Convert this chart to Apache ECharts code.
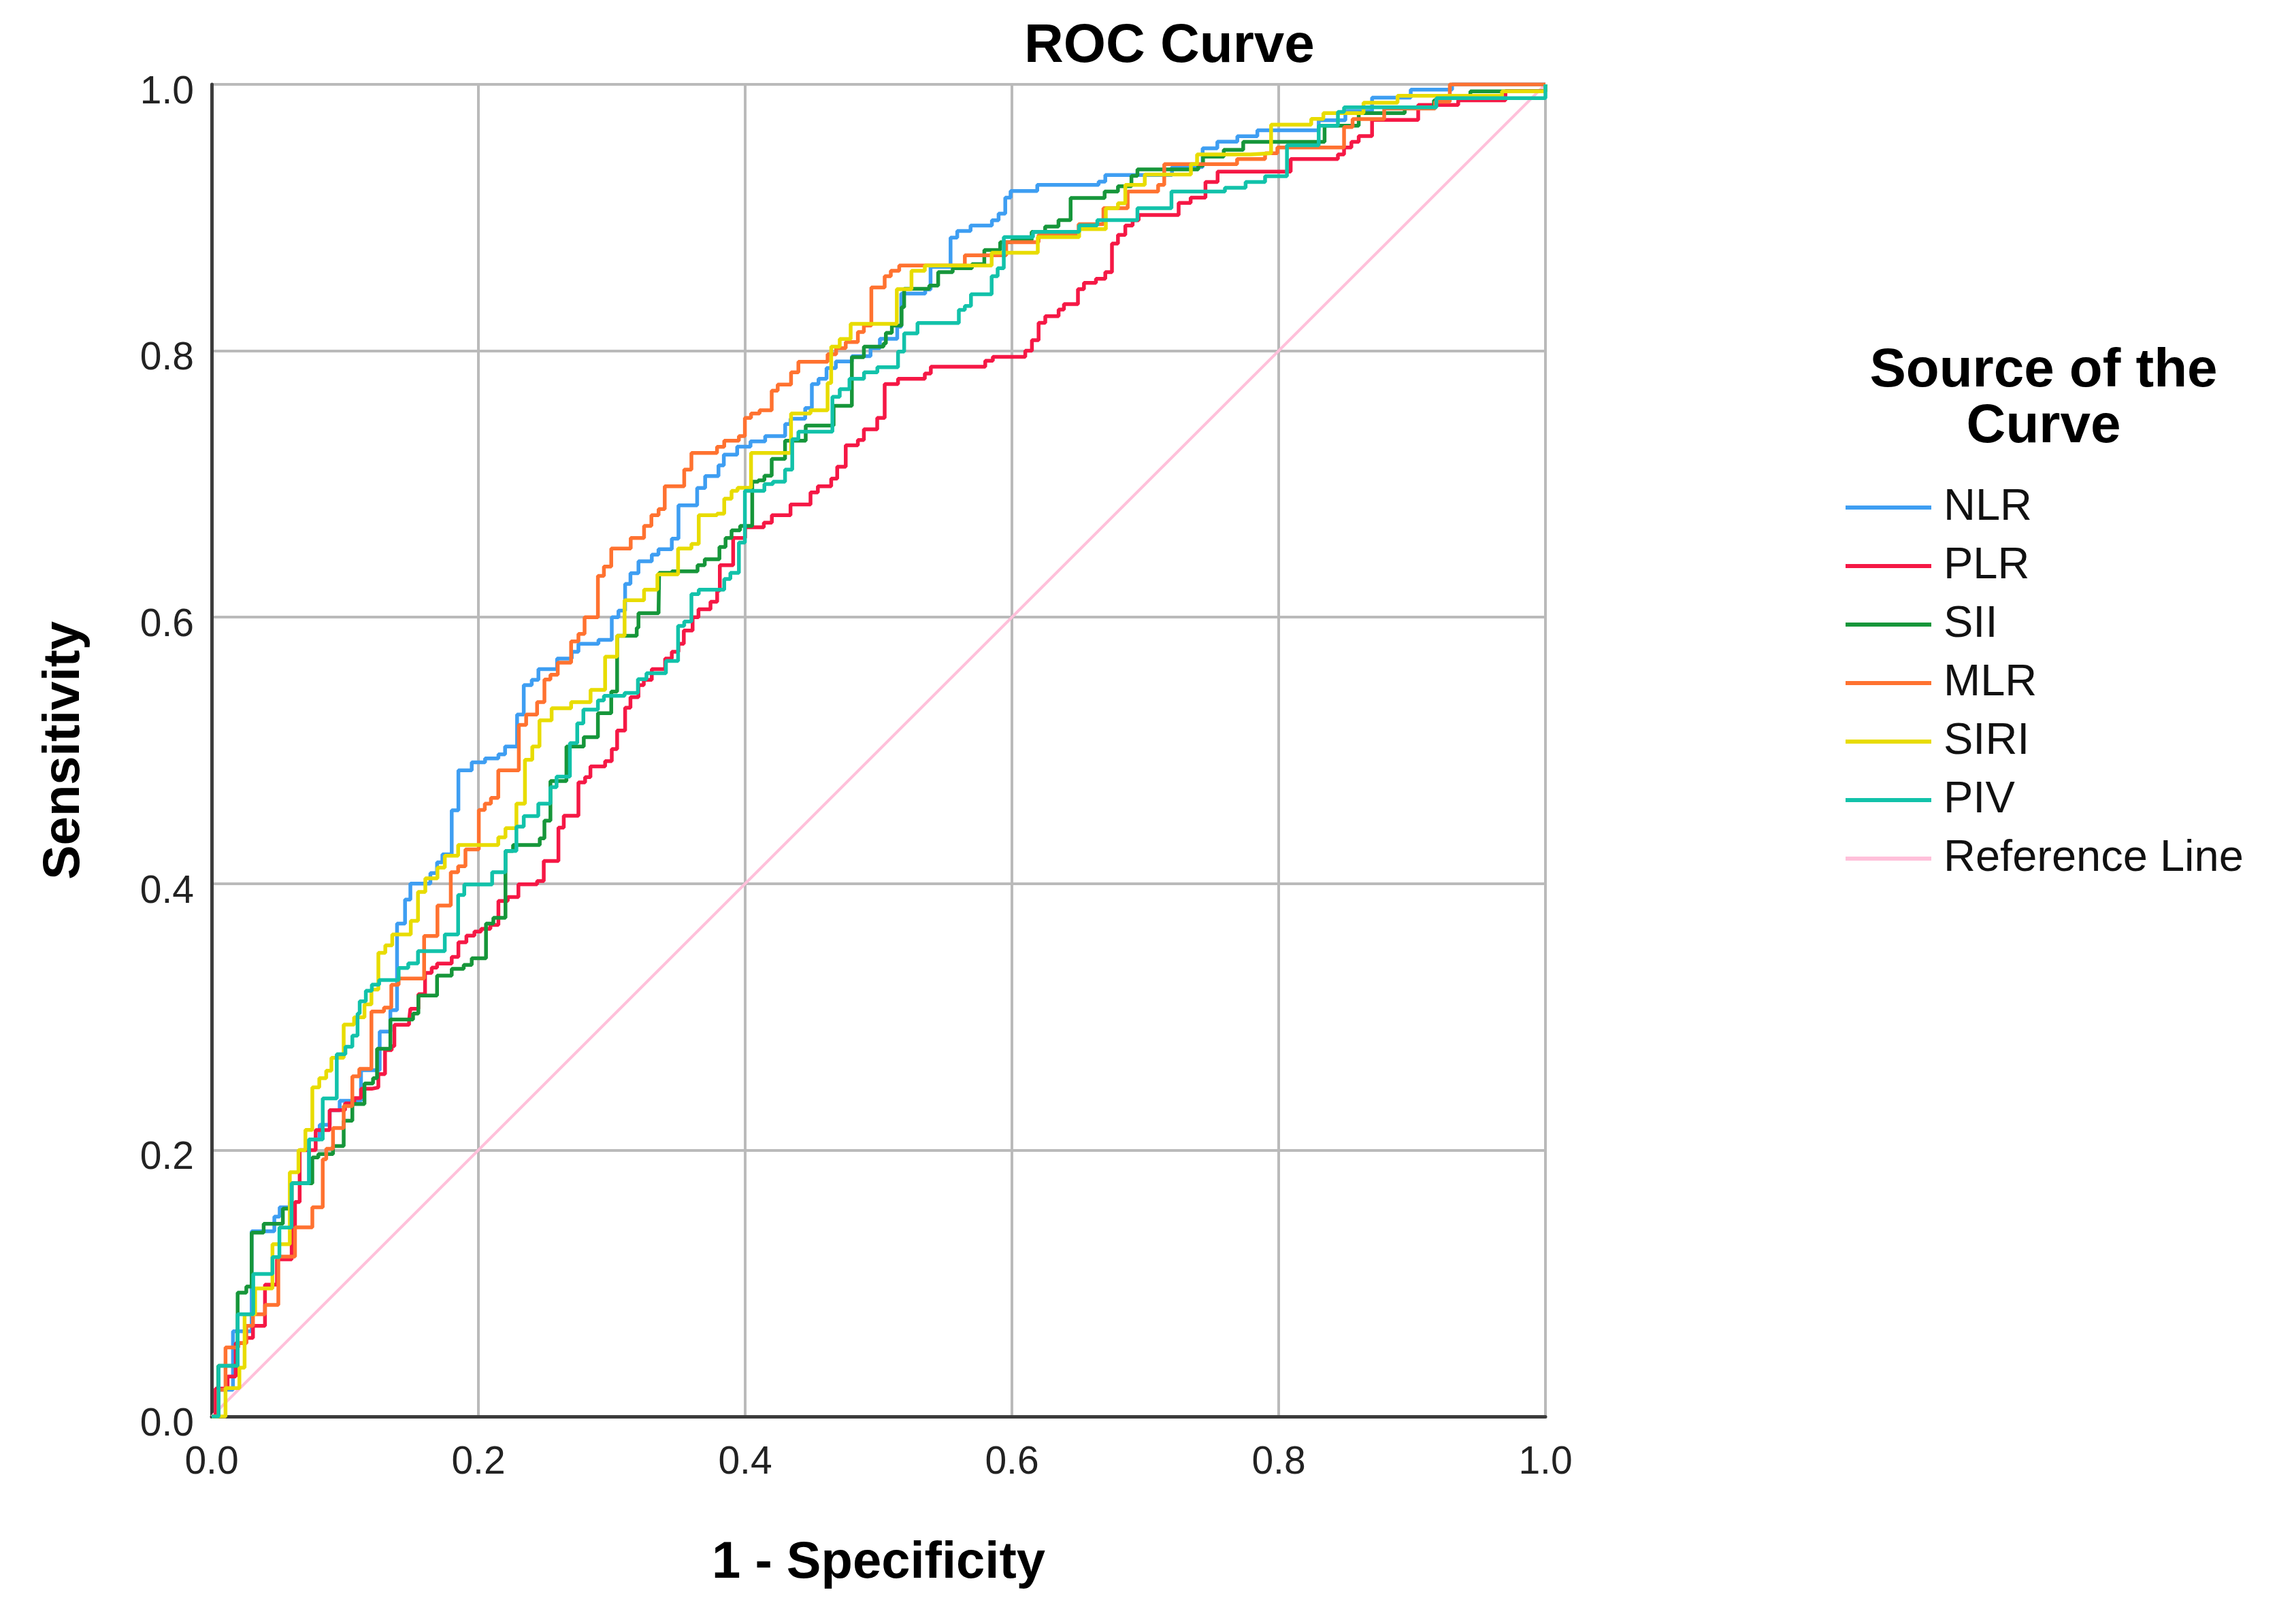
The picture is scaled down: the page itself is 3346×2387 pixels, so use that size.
<!DOCTYPE html>
<html>
<head>
<meta charset="utf-8">
<script src="https://cdn.jsdelivr.net/npm/echarts@6/dist/echarts.min.js"></script>
<style>
html,body{margin:0;padding:0;background:#fff;}
#chart{width:3346px;height:2387px;}
</style>
</head>
<body>
<div id="chart"></div>
<script>
const seriesNames = ['NLR','PLR','SII','MLR','SIRI','PIV','Reference Line'];
const seriesColors = ['#3e9ef2','#f51845','#16963a','#ff7230','#e8dc00','#12c2aa','#ffc0da'];

const NLR = [[0,0],[0.005,0.02],[0.016,0.064],[0.03,0.139],[0.047,0.15],[0.051,0.157],[0.06,0.175],[0.073,0.208],[0.081,0.219],[0.0885,0.23],[0.096,0.237],[0.112,0.26],[0.126,0.289],[0.134,0.305],[0.139,0.37],[0.145,0.388],[0.149,0.4],[0.164,0.408],[0.169,0.416],[0.173,0.422],[0.18,0.455],[0.185,0.485],[0.195,0.491],[0.205,0.494],[0.215,0.497],[0.22,0.503],[0.229,0.527],[0.234,0.549],[0.24,0.553],[0.245,0.561],[0.259,0.569],[0.27,0.574],[0.275,0.58],[0.29,0.583],[0.3,0.6],[0.305,0.605],[0.31,0.625],[0.314,0.633],[0.32,0.642],[0.33,0.647],[0.335,0.651],[0.345,0.659],[0.35,0.684],[0.364,0.697],[0.37,0.706],[0.38,0.714],[0.384,0.722],[0.394,0.728],[0.404,0.732],[0.415,0.736],[0.43,0.745],[0.434,0.749],[0.445,0.757],[0.45,0.775],[0.455,0.779],[0.461,0.787],[0.468,0.792],[0.48,0.796],[0.494,0.802],[0.501,0.809],[0.514,0.818],[0.517,0.843],[0.535,0.846],[0.539,0.863],[0.554,0.885],[0.559,0.89],[0.569,0.894],[0.585,0.898],[0.59,0.903],[0.595,0.915],[0.599,0.92],[0.619,0.9245],[0.665,0.927],[0.67,0.932],[0.72,0.938],[0.743,0.952],[0.754,0.957],[0.769,0.961],[0.784,0.9655],[0.83,0.973],[0.85,0.98],[0.87,0.99],[0.899,0.996],[0.93,1.0],[1,1]];

const PLR = [[0,0],[0.003,0.021],[0.012,0.03],[0.018,0.055],[0.026,0.059],[0.031,0.068],[0.04,0.099],[0.049,0.118],[0.06,0.143],[0.0625,0.161],[0.066,0.2],[0.078,0.215],[0.0885,0.23],[0.1,0.235],[0.107,0.239],[0.112,0.246],[0.12,0.247],[0.125,0.257],[0.13,0.275],[0.135,0.278],[0.137,0.294],[0.148,0.297],[0.149,0.306],[0.155,0.317],[0.16,0.333],[0.165,0.337],[0.169,0.34],[0.18,0.345],[0.185,0.356],[0.191,0.361],[0.197,0.364],[0.202,0.366],[0.209,0.369],[0.215,0.387],[0.222,0.39],[0.23,0.3995],[0.244,0.402],[0.249,0.417],[0.26,0.442],[0.264,0.451],[0.275,0.476],[0.28,0.48],[0.284,0.488],[0.295,0.492],[0.3,0.501],[0.304,0.515],[0.31,0.532],[0.314,0.54],[0.32,0.549],[0.324,0.553],[0.33,0.561],[0.34,0.569],[0.345,0.574],[0.35,0.58],[0.354,0.59],[0.3606,0.6],[0.365,0.606],[0.374,0.6116],[0.379,0.62],[0.381,0.639],[0.391,0.6595],[0.4,0.6675],[0.414,0.671],[0.42,0.6766],[0.434,0.6846],[0.449,0.6937],[0.4545,0.6983],[0.4645,0.704],[0.469,0.713],[0.4754,0.729],[0.4845,0.733],[0.489,0.741],[0.499,0.7496],[0.5046,0.775],[0.5146,0.779],[0.5347,0.783],[0.5392,0.788],[0.58,0.7925],[0.5857,0.7955],[0.61,0.8],[0.615,0.808],[0.62,0.821],[0.625,0.826],[0.635,0.831],[0.639,0.835],[0.6495,0.8463],[0.654,0.851],[0.663,0.854],[0.67,0.859],[0.675,0.8805],[0.6795,0.887],[0.685,0.894],[0.6905,0.898],[0.695,0.902],[0.725,0.911],[0.734,0.915],[0.7451,0.9267],[0.7542,0.9345],[0.809,0.944],[0.8444,0.9474],[0.849,0.9526],[0.8545,0.9569],[0.86,0.9612],[0.87,0.9733],[0.9046,0.9845],[0.9346,0.988],[0.97,0.995],[1,1]];

const SII = [[0,0],[0.005,0.038],[0.0195,0.093],[0.026,0.0975],[0.03,0.138],[0.039,0.1446],[0.0534,0.156],[0.0586,0.161],[0.06,0.175],[0.0755,0.1945],[0.08,0.197],[0.091,0.203],[0.099,0.222],[0.1055,0.2346],[0.1146,0.25],[0.121,0.254],[0.124,0.276],[0.134,0.298],[0.151,0.3025],[0.155,0.316],[0.169,0.331],[0.18,0.336],[0.189,0.339],[0.195,0.344],[0.2057,0.37],[0.2112,0.3744],[0.2203,0.4245],[0.226,0.429],[0.246,0.434],[0.2495,0.4473],[0.254,0.477],[0.266,0.503],[0.279,0.51],[0.2896,0.528],[0.2996,0.5442],[0.304,0.586],[0.3187,0.592],[0.32,0.603],[0.3351,0.606],[0.3355,0.6333],[0.345,0.6345],[0.3643,0.639],[0.3697,0.6435],[0.3807,0.6527],[0.3853,0.6595],[0.3898,0.6652],[0.3962,0.6686],[0.4053,0.7017],[0.4098,0.7028],[0.4144,0.7062],[0.4199,0.7188],[0.4299,0.7325],[0.4454,0.7439],[0.4663,0.7587],[0.48,0.7952],[0.489,0.8031],[0.5037,0.8054],[0.5055,0.8134],[0.51,0.819],[0.5173,0.8328],[0.5192,0.8465],[0.538,0.849],[0.5447,0.859],[0.5556,0.862],[0.57,0.865],[0.5793,0.8756],[0.5912,0.8815],[0.6,0.883],[0.6148,0.8893],[0.6249,0.8932],[0.6349,0.8981],[0.644,0.9147],[0.6695,0.9196],[0.6795,0.9235],[0.6896,0.9313],[0.6941,0.9362],[0.7397,0.939],[0.7433,0.9457],[0.7588,0.9509],[0.7734,0.9569],[0.8344,0.969],[0.86,0.9784],[0.8945,0.9828],[0.9164,0.988],[0.92,0.9914],[0.9437,0.9948],[0.995,0.9948],[1,1]];

const MLR = [[0,0],[0.005,0.02],[0.0104,0.0518],[0.02,0.055],[0.026,0.068],[0.031,0.0767],[0.04,0.0837],[0.05,0.12],[0.0625,0.142],[0.0755,0.157],[0.0833,0.193],[0.0859,0.201],[0.091,0.2166],[0.099,0.233],[0.1055,0.2554],[0.1107,0.261],[0.1198,0.304],[0.1292,0.307],[0.1347,0.324],[0.1402,0.3288],[0.1593,0.3607],[0.1693,0.3835],[0.1793,0.4086],[0.1848,0.413],[0.1903,0.4257],[0.2003,0.4553],[0.2048,0.46],[0.2094,0.4644],[0.2149,0.485],[0.2303,0.5191],[0.2358,0.527],[0.244,0.5362],[0.2495,0.5533],[0.254,0.5568],[0.2595,0.5659],[0.2695,0.5818],[0.275,0.5875],[0.2796,0.6],[0.2896,0.631],[0.2941,0.638],[0.2996,0.6515],[0.3142,0.6595],[0.3242,0.6686],[0.3297,0.6766],[0.3351,0.6812],[0.3397,0.6983],[0.3543,0.7108],[0.3597,0.7233],[0.3789,0.7279],[0.3843,0.7325],[0.3953,0.736],[0.3998,0.7496],[0.4044,0.753],[0.4108,0.7553],[0.4199,0.77],[0.4244,0.7746],[0.4344,0.7838],[0.4399,0.7917],[0.4618,0.7974],[0.4682,0.802],[0.4754,0.8066],[0.4845,0.8141],[0.489,0.819],[0.4946,0.8476],[0.5046,0.856],[0.5092,0.86],[0.5155,0.864],[0.5647,0.8717],[0.5957,0.8815],[0.62,0.887],[0.65,0.895],[0.6686,0.907],[0.6868,0.9196],[0.7096,0.9245],[0.7142,0.9401],[0.7688,0.944],[0.7898,0.9483],[0.799,0.9526],[0.849,0.968],[0.8554,0.974],[0.8791,0.9819],[0.9173,0.987],[0.9283,1.0],[1,1]];

const SIRI = [[0,0],[0.0104,0.0213],[0.0208,0.0366],[0.0247,0.0767],[0.0326,0.0961],[0.0456,0.1294],[0.0586,0.1834],[0.0651,0.2],[0.0703,0.2152],[0.0755,0.2471],[0.0807,0.254],[0.0859,0.2596],[0.0898,0.2693],[0.099,0.2942],[0.1068,0.2997],[0.1146,0.3094],[0.1198,0.3205],[0.125,0.348],[0.1302,0.3537],[0.1354,0.3618],[0.1493,0.372],[0.1547,0.3938],[0.1602,0.404],[0.1693,0.412],[0.1748,0.421],[0.1848,0.429],[0.2149,0.4348],[0.2203,0.4416],[0.2285,0.46],[0.2349,0.493],[0.2404,0.503],[0.2458,0.5226],[0.2549,0.5317],[0.2695,0.5362],[0.2841,0.5454],[0.295,0.5704],[0.304,0.586],[0.3096,0.6128],[0.3242,0.6207],[0.3342,0.6322],[0.3497,0.6515],[0.3597,0.655],[0.3652,0.6766],[0.3789,0.6777],[0.3843,0.689],[0.3898,0.6948],[0.3943,0.6971],[0.4044,0.7233],[0.4344,0.753],[0.449,0.7553],[0.4618,0.7758],[0.4645,0.8031],[0.4709,0.8088],[0.4791,0.8202],[0.5137,0.8463],[0.5247,0.86],[0.5347,0.864],[0.5848,0.8736],[0.6194,0.8854],[0.6504,0.8913],[0.6704,0.9069],[0.6795,0.9108],[0.685,0.9245],[0.6996,0.9323],[0.7342,0.9401],[0.7388,0.9474],[0.7788,0.9483],[0.7943,0.9698],[0.8244,0.9741],[0.8335,0.9784],[0.8636,0.9862],[0.8891,0.9914],[0.9674,0.9948],[1,1]];

const PIV = [[0,0],[0.0052,0.038],[0.0195,0.0767],[0.0312,0.107],[0.0456,0.1197],[0.0508,0.1418],[0.0599,0.175],[0.073,0.208],[0.0833,0.2388],[0.0938,0.272],[0.1003,0.2776],[0.1055,0.2859],[0.1094,0.3025],[0.111,0.3117],[0.1156,0.3196],[0.1201,0.3242],[0.1256,0.3276],[0.1402,0.3367],[0.1474,0.3402],[0.1547,0.3493],[0.1748,0.3618],[0.1848,0.3915],[0.1894,0.3994],[0.2103,0.4086],[0.2203,0.4245],[0.2285,0.4428],[0.234,0.4507],[0.2449,0.46],[0.254,0.4724],[0.2586,0.4804],[0.2686,0.5055],[0.2741,0.5203],[0.2787,0.5307],[0.2896,0.5375],[0.2941,0.541],[0.3096,0.5431],[0.3196,0.5535],[0.326,0.558],[0.3406,0.5672],[0.3497,0.5934],[0.3543,0.5968],[0.3597,0.6173],[0.3652,0.6207],[0.3843,0.6287],[0.3889,0.6333],[0.3953,0.656],[0.3998,0.6948],[0.4144,0.7],[0.4208,0.7017],[0.4299,0.7108],[0.4353,0.7336],[0.4399,0.7393],[0.4654,0.7655],[0.4709,0.7712],[0.4782,0.779],[0.4891,0.7838],[0.4991,0.7877],[0.5146,0.7994],[0.5192,0.8131],[0.5292,0.8209],[0.5602,0.8307],[0.5647,0.8336],[0.5693,0.8424],[0.5848,0.856],[0.5893,0.862],[0.5939,0.8854],[0.6158,0.8893],[0.6504,0.8942],[0.664,0.8981],[0.6941,0.907],[0.7196,0.9196],[0.7597,0.9224],[0.7752,0.9267],[0.7898,0.931],[0.8062,0.9543],[0.83,0.969],[0.8444,0.9793],[0.849,0.9828],[0.9182,0.9897],[1,0.9897],[1,1]];

const REF = [[0,0],[1,1]];

const curveData = [NLR, PLR, SII, MLR, SIRI, PIV];

const FONT = 'Liberation Sans, Arial, sans-serif';

const chart = echarts.init(document.getElementById('chart'), null, {renderer:'canvas', width:3346, height:2387});

const series = curveData.map((d, i) => ({
  name: seriesNames[i],
  type: 'line',
  step: 'end',
  data: d,
  symbol: 'none',
  showSymbol: false,
  lineStyle: {color: seriesColors[i], width: 5.5},
  itemStyle: {color: seriesColors[i]},
  emphasis: {disabled: true},
  z: 3 + i
}));
series.push({
  name: seriesNames[6],
  type: 'line',
  data: REF,
  symbol: 'none',
  showSymbol: false,
  lineStyle: {color: seriesColors[6], width: 4},
  itemStyle: {color: seriesColors[6]},
  emphasis: {disabled: true},
  z: 2
});

const option = {
  animation: false,
  backgroundColor: '#ffffff',
  title: [
    {text: 'ROC Curve', left: 1500, top: 24,
     textStyle: {fontFamily: FONT, fontWeight: 'bold', fontSize: 80, color: '#000'}},
    {text: 'Source of the\nCurve', left: 2998, top: 500, textAlign: 'center',
     textStyle: {fontFamily: FONT, fontWeight: 'bold', fontSize: 80, lineHeight: 82, color: '#000'}}
  ],
  legend: {
    orient: 'vertical',
    left: 2707,
    top: 708,
    icon: 'rect',
    itemWidth: 126,
    itemHeight: 6,
    itemGap: 20,
    selectedMode: false,
    data: seriesNames,
    textStyle: {fontFamily: FONT, fontSize: 65, lineHeight: 66, color: '#111', padding: [0,0,0,13]}
  },
  grid: {left: 311, right: 1075, top: 124, bottom: 305, containLabel: false},
  xAxis: {
    type: 'value', min: 0, max: 1, interval: 0.2,
    name: '1 - Specificity', nameLocation: 'middle', nameGap: 178,
    nameTextStyle: {fontFamily: FONT, fontWeight: 'bold', fontSize: 76, color: '#000'},
    axisLine: {show: true, lineStyle: {color: '#3c3c3c', width: 5}},
    axisTick: {show: false},
    axisLabel: {fontFamily: FONT, fontSize: 57, color: '#222', margin: 40,
                formatter: v => v.toFixed(1)},
    splitLine: {show: true, lineStyle: {color: '#bababa', width: 4}}
  },
  yAxis: {
    type: 'value', min: 0, max: 1, interval: 0.2,
    name: 'Sensitivity', nameLocation: 'middle', nameGap: 178, nameRotate: 90,
    nameTextStyle: {fontFamily: FONT, fontWeight: 'bold', fontSize: 76, color: '#000'},
    axisLine: {show: true, lineStyle: {color: '#3c3c3c', width: 5}},
    axisTick: {show: false},
    axisLabel: {fontFamily: FONT, fontSize: 57, color: '#222', margin: 26,
                verticalAlign: 'top', lineHeight: 24,
                formatter: v => v.toFixed(1)},
    splitLine: {show: true, lineStyle: {color: '#bababa', width: 4}}
  },
  series: series
};
chart.setOption(option);
</script>
</body>
</html>
